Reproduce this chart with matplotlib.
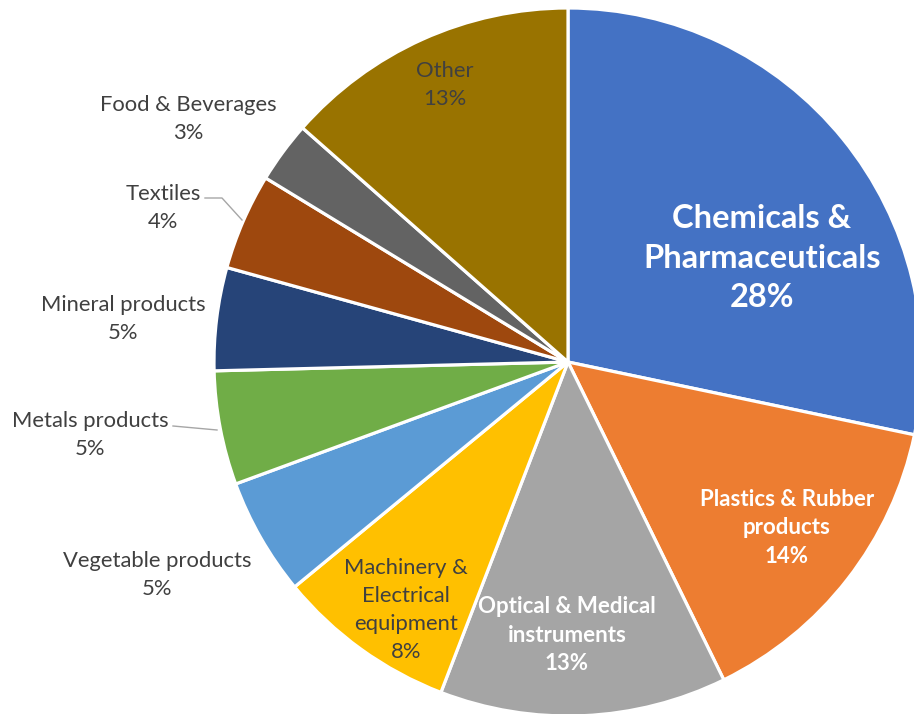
import matplotlib.pyplot as plt

# data
sectors = ['Chemicals &\nPharmaceuticals', 'Plastics & Rubber\nproducts', 'Optical & Medical\ninstruments',
           'Machinery &\nElectrical\nequipment', 'Vegetable products', 'Metals products',
           'Mineral products', 'Textiles', 'Food & Beverages', 'Other']
shares = [28.3, 14.45, 13.1, 8.2, 5.36, 5.2, 4.7, 4.4, 2.8, 13.5]
pct_labels = ['28%', '14%', '13%', '8%', '5%', '5%', '5%', '4%', '3%', '13%']
colors = ['#4472C4', '#ED7D31', '#A5A5A5', '#FFC000', '#5B9BD5', '#70AD47',
          '#264478', '#9E480E', '#636363', '#997300']

# label layout (pixel coords, y from top), style
lab_pos = [(762, 258), (787, 528), (567, 635), (406, 610), (157, 575), (90, 435),
           (123, 319), (163, 208), (188, 119), (445, 85)]
lab_color = ['white', 'white', 'white', '#404040', '#404040', '#404040',
             '#404040', '#404040', '#404040', '#404040']
lab_weight = ['bold', 'bold', 'bold', 'normal', 'normal', 'normal',
              'normal', 'normal', 'normal', 'normal']
lab_size = [23.5, 16, 16, 15.8, 15.8, 15.8, 15.8, 15.8, 15.8, 15.8]
lab_spacing = [1.42, 1.44, 1.44, 1.5, 1.5, 1.5, 1.5, 1.5, 1.5, 1.5]

W, H = 914, 714
fig = plt.figure(figsize=(W / 100, H / 100), dpi=100)
ax = fig.add_axes([0, 0, 1, 1])
ax.set_xlim(0, W)
ax.set_ylim(0, H)
ax.set_aspect('equal')
ax.axis('off')

ax.pie(shares, colors=colors, startangle=90, counterclock=False,
       center=(568, H - 362), radius=354,
       wedgeprops=dict(edgecolor='white', linewidth=2.3))
ax.set_xlim(0, W)
ax.set_ylim(0, H)

for i in range(len(sectors)):
    x, y = lab_pos[i]
    ax.text(x, H - y, sectors[i] + '\n' + pct_labels[i], ha='center', va='center',
            color=lab_color[i], fontweight=lab_weight[i], fontsize=lab_size[i],
            family='Lato', linespacing=lab_spacing[i])

# leader lines
ax.plot([205, 222, 242], [H - 198, H - 198, H - 220], color='#A6A6A6', lw=1)
ax.plot([173, 217], [H - 426, H - 430], color='#A6A6A6', lw=1)

fig.savefig('out.png', dpi=100)
